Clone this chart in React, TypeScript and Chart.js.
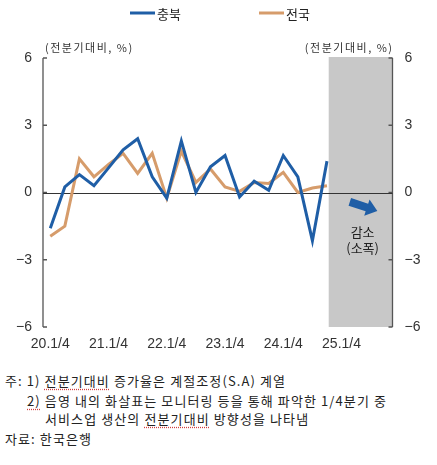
import React, { useEffect, useRef } from 'react';
import { Chart, registerables, Plugin } from 'chart.js';

Chart.register(...registerables);

// 분기 라벨 (20.1/4 ~ 25.4/4)
const quarters = [
  '20.1/4', '20.2/4', '20.3/4', '20.4/4',
  '21.1/4', '21.2/4', '21.3/4', '21.4/4',
  '22.1/4', '22.2/4', '22.3/4', '22.4/4',
  '23.1/4', '23.2/4', '23.3/4', '23.4/4',
  '24.1/4', '24.2/4', '24.3/4', '24.4/4',
  '25.1/4', '25.2/4', '25.3/4', '25.4/4',
];

// 서비스업 생산 전분기대비 증감률 (%)
const chungbuk = [-1.6, 0.25, 0.8, 0.3, 1.1, 1.9, 2.4, 0.7, -0.25, 2.3, 0.0, 1.15, 1.65, -0.2, 0.5, 0.1, 1.65, 0.7, -2.15, 1.4];
const national = [-1.95, -1.5, 1.5, 0.7, 1.25, 1.75, 0.85, 1.75, -0.25, 1.85, 0.45, 1.05, 0.25, 0.05, 0.45, 0.4, 0.9, 0.0, 0.2, 0.3];

const yTicks = [-6, -3, 0, 3, 6];
const shadeFrom = 19.12; // 음영 시작 (카테고리 인덱스)

const BLUE = '#1f5ea6';
const ORANGE = '#d69c6b';
const KFONT = "'Noto Sans CJK KR', sans-serif";
const NFONT = "'Liberation Sans', 'Noto Sans CJK KR', sans-serif";

const fmt = (v: number) => (v < 0 ? '\u2212' + Math.abs(v) : String(v));

const decorations: Plugin<'line'> = {
  id: 'decorations',
  beforeDatasetsDraw(chart) {
    const { ctx, chartArea: a, scales } = chart;
    const x = scales.x;
    const y = scales.y;
    ctx.save();
    // 음영
    const sx = x.getPixelForValue(shadeFrom);
    ctx.fillStyle = '#c8c8c8';
    ctx.fillRect(sx, a.top - 1, a.right - sx, a.bottom - a.top + 1);

    // 축선
    ctx.strokeStyle = '#555';
    ctx.lineWidth = 1.3;
    ctx.beginPath();
    ctx.moveTo(a.left, a.top);
    ctx.lineTo(a.left, a.bottom);
    ctx.moveTo(a.right, a.top);
    ctx.lineTo(a.right, a.bottom);
    yTicks.forEach((t) => {
      const py = y.getPixelForValue(t);
      ctx.moveTo(a.left, py);
      ctx.lineTo(a.left + 4, py);
      ctx.moveTo(a.right, py);
      ctx.lineTo(a.right - 4, py);
    });
    ctx.stroke();

    // 0선
    ctx.strokeStyle = '#333';
    ctx.lineWidth = 1;
    ctx.beginPath();
    const zy = Math.round(y.getPixelForValue(0)) + 0.5;
    ctx.moveTo(a.left, zy);
    ctx.lineTo(a.right, zy);
    ctx.stroke();
    ctx.restore();
  },
  afterDraw(chart) {
    const { ctx, chartArea: a, scales } = chart;
    const x = scales.x;
    const y = scales.y;
    ctx.save();

    // 범례
    const legend = [
      { label: '충북', color: BLUE, x0: 130 },
      { label: '전국', color: ORANGE, x0: 259 },
    ];
    ctx.font = `13px ${KFONT}`;
    ctx.textBaseline = 'middle';
    ctx.textAlign = 'left';
    legend.forEach((l) => {
      ctx.strokeStyle = l.color;
      ctx.lineWidth = 3;
      ctx.beginPath();
      ctx.moveTo(l.x0, 13);
      ctx.lineTo(l.x0 + 25, 13);
      ctx.stroke();
      ctx.fillStyle = '#222';
      ctx.fillText(l.label, l.x0 + 27, 14);
    });

    // 단위
    ctx.font = `11px ${KFONT}`;
    (ctx as any).letterSpacing = '1.5px';
    ctx.fillStyle = '#333';
    ctx.textAlign = 'left';
    ctx.fillText('(전분기대비, %)', a.left + 2, a.top - 10);
    ctx.textAlign = 'right';
    ctx.fillText('(전분기대비, %)', a.right + 1, a.top - 10);
    (ctx as any).letterSpacing = '0px';

    // 화살표
    const ax = x.getPixelForValue(20.5) + 1;
    const ay = y.getPixelForValue(-0.42);
    ctx.translate(ax, ay);
    ctx.rotate(0.32);
    ctx.fillStyle = BLUE;
    ctx.beginPath();
    ctx.moveTo(0, -4);
    ctx.lineTo(18, -4);
    ctx.lineTo(18, -8.5);
    ctx.lineTo(29, 0);
    ctx.lineTo(18, 8.5);
    ctx.lineTo(18, 4);
    ctx.lineTo(0, 4);
    ctx.closePath();
    ctx.fill();
    ctx.setTransform(chart.currentDevicePixelRatio, 0, 0, chart.currentDevicePixelRatio, 0, 0);

    const cx = (x.getPixelForValue(shadeFrom) + a.right) / 2 + 2;
    ctx.font = `13px ${KFONT}`;
    ctx.fillStyle = '#222';
    ctx.textAlign = 'center';
    ctx.fillText('감소', cx, y.getPixelForValue(-1.75));
    ctx.fillText('(소폭)', cx, y.getPixelForValue(-2.5));
    ctx.restore();
  },
};

const ChartView: React.FC = () => {
  const canvasRef = useRef<HTMLCanvasElement>(null);
  const chartRef = useRef<Chart | null>(null);

  useEffect(() => {
    if (!canvasRef.current) return;
    if (chartRef.current) chartRef.current.destroy();

    const yAxis = (position: 'left' | 'right', width: number) => ({
      position,
      min: -6,
      max: 6,
      grid: { display: false, drawTicks: false },
      border: { display: false },
      ticks: {
        stepSize: 3,
        padding: position === 'left' ? 11 : 12,
        color: '#333',
        font: { size: 14, family: NFONT },
        callback: (v: any) => fmt(Number(v)),
      },
      afterFit: (s: any) => {
        s.width = width;
      },
    });

    chartRef.current = new Chart(canvasRef.current, {
      type: 'line',
      data: {
        labels: quarters,
        datasets: [
          {
            label: '충북',
            data: chungbuk,
            borderColor: BLUE,
            borderWidth: 3,
            pointRadius: 0,
            tension: 0,
            yAxisID: 'y',
          },
          {
            label: '전국',
            data: national,
            borderColor: ORANGE,
            borderWidth: 3,
            pointRadius: 0,
            tension: 0,
            yAxisID: 'y',
          },
        ],
      },
      options: {
        responsive: false,
        animation: false,
        devicePixelRatio: 1,
        layout: { padding: { top: 58, left: 0, right: 0, bottom: 0 } },
        plugins: {
          legend: { display: false },
          tooltip: { enabled: false },
        },
        scales: {
          x: {
            type: 'category',
            offset: true,
            grid: { display: false, drawTicks: false },
            border: { display: false },
            ticks: {
              autoSkip: false,
              maxRotation: 0,
              padding: 9,
              color: '#333',
              font: { size: 14, family: NFONT },
              callback: (_v: any, i: number) => (i % 4 === 0 ? quarters[i] : ''),
            },
            afterFit: (s: any) => {
              s.height = 33;
            },
          },
          y: yAxis('left', 43) as any,
          y2: yAxis('right', 44.5) as any,
        },
      },
      plugins: [decorations],
    });

    return () => {
      if (chartRef.current) {
        chartRef.current.destroy();
        chartRef.current = null;
      }
    };
  }, []);

  return <canvas ref={canvasRef} width={437} height={360} style={{ display: 'block' }} />;
};

const squiggle: React.CSSProperties = {
  textDecoration: 'underline dotted #d04040',
  textUnderlineOffset: '3px',
};

const App: React.FC = () => {
  useEffect(() => {
    document.body.style.margin = '0';
  }, []);

  const note: React.CSSProperties = {
    position: 'absolute',
    fontFamily: KFONT,
    fontSize: 13,
    letterSpacing: '1.1px',
    color: '#222',
    whiteSpace: 'nowrap',
    lineHeight: '19px',
  };

  return (
    <div style={{ position: 'relative', width: 437, height: 465, background: '#fff', overflow: 'hidden' }}>
      <ChartView />
      <div style={{ ...note, left: 5, top: 371 }}>
        주: 1) <span style={squiggle}>전분기대비</span> 증가율은 계절조정(S.A) 계열
      </div>
      <div style={{ ...note, left: 27, top: 391 }}>
        <span style={squiggle}>2)</span> 음영 내의 화살표는 모니터링 등을 통해 파악한 1/4분기 중
      </div>
      <div style={{ ...note, left: 45, top: 409 }}>
        서비스업 생산의 <span style={squiggle}>전분기대비</span> 방향성을 나타냄
      </div>
      <div style={{ ...note, left: 5, top: 429 }}>자료: 한국은행</div>
    </div>
  );
};

export default App;
